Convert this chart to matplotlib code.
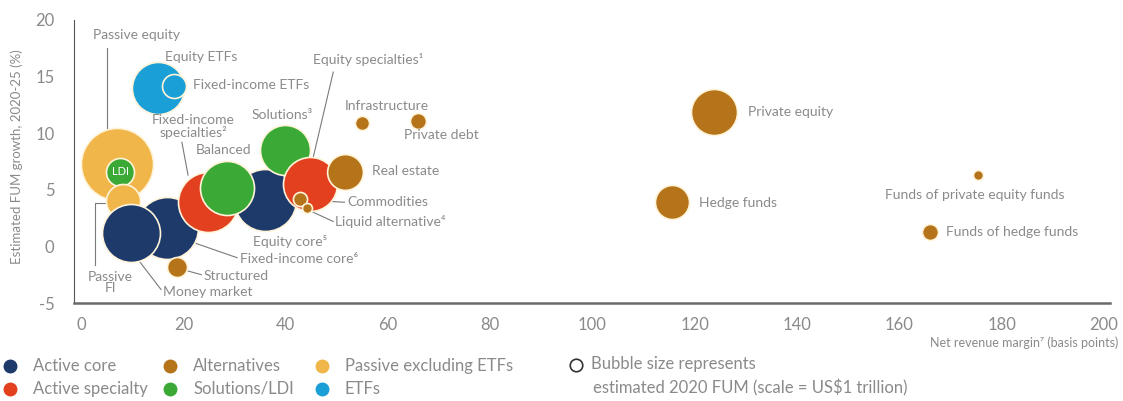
import matplotlib.pyplot as plt
from matplotlib.lines import Line2D

plt.rcParams['font.family'] = ['Lato', 'DejaVu Sans']
plt.rcParams['axes.unicode_minus'] = False

# data: net revenue margin (bps), FUM growth 2020-25 (%), FUM 2020 (US$ trillion)
names = ["Passive equity", "LDI", "Passive FI", "Fixed-income core", "Money market",
         "Structured", "Fixed-income specialties", "Equity core", "Balanced", "Solutions",
         "Equity specialties", "Real estate", "Commodities", "Liquid alternative",
         "Infrastructure", "Private debt", "Equity ETFs", "Fixed-income ETFs",
         "Private equity", "Hedge funds", "Funds of private equity funds", "Funds of hedge funds"]
margin = [7.0, 7.6, 8.2, 16.8, 9.8, 18.8, 24.8, 36.0, 28.5, 39.9,
          44.8, 51.6, 42.8, 44.2, 54.9, 65.9, 15.0, 18.2, 123.8, 115.5, 175.4, 166.0]
growth = [7.3, 6.6, 4.0, 1.6, 1.2, -1.8, 3.9, 4.1, 5.2, 8.5,
          5.5, 6.6, 4.2, 3.4, 10.9, 11.1, 14.0, 14.2, 11.9, 3.9, 6.3, 1.3]
fum = [13.0, 1.96, 2.9, 9.6, 8.4, 1.0, 9.0, 9.6, 7.3, 6.25,
       7.3, 3.2, 0.5, 0.25, 0.5, 0.64, 6.8, 1.44, 5.3, 2.9, 0.25, 0.64]
category = ["Passive", "Solutions", "Passive", "Core", "Core", "Alt", "Specialty", "Core",
            "Solutions", "Solutions", "Specialty", "Alt", "Alt", "Alt", "Alt", "Alt",
            "ETF", "ETF", "Alt", "Alt", "Alt", "Alt"]

cat_colors = {"Core": "#1d3a6b", "Specialty": "#e2401f", "Alt": "#b5741a",
              "Passive": "#f0b64a", "Solutions": "#3ba935", "ETF": "#1a9fd6"}
legend_items = [("Active core", "Core"), ("Active specialty", "Specialty"),
                ("Alternatives", "Alt"), ("Solutions/LDI", "Solutions"),
                ("Passive excluding ETFs", "Passive"), ("ETFs", "ETF")]

grey = "#8a8a8a"
W, H = 1123, 401
fig = plt.figure(figsize=(W / 100, H / 100), dpi=100)
ax = fig.add_axes([74 / W, 1 - 303 / H, (1110 - 74) / W, (303 - 20) / H])

size_scale = 207.36  # points^2 per US$ trillion
for i in range(len(names)):
    ax.scatter(margin[i], growth[i], s=fum[i] * size_scale, color=cat_colors[category[i]],
               edgecolor="#fff4da", linewidth=1.2, zorder=2 + i * 0.01)

ax.text(margin[1], growth[1], "LDI", color="white", fontsize=8, ha="center", va="center", zorder=3)

# labels: (text, x, y, ha)
labels = [
    ("Passive equity", 10.8, 18.7, "center"),
    ("Equity ETFs", 23.5, 16.7, "center"),
    ("Fixed-income ETFs", 21.9, 14.3, "left"),
    ("Fixed-income\nspecialties²", 21.9, 10.6, "center"),
    ("Balanced", 27.8, 8.5, "center"),
    ("Solutions³", 39.3, 11.6, "center"),
    ("Equity specialties¹", 56.1, 16.5, "center"),
    ("Infrastructure", 59.7, 12.4, "center"),
    ("Private debt", 70.4, 9.8, "center"),
    ("Real estate", 56.9, 6.7, "left"),
    ("Commodities", 52.0, 3.9, "left"),
    ("Liquid alternative⁴", 49.7, 2.2, "left"),
    ("Equity core⁵", 40.9, 0.45, "center"),
    ("Fixed-income core⁶", 31.1, -1.15, "left"),
    ("Structured", 23.9, -2.6, "left"),
    ("Money market", 16.0, -4.0, "left"),
    ("Passive\nFI", 5.7, -3.2, "center"),
    ("Private equity", 130.4, 11.9, "left"),
    ("Hedge funds", 120.8, 3.8, "left"),
    ("Funds of private equity funds", 157.2, 4.5, "left"),
    ("Funds of hedge funds", 169.1, 1.3, "left"),
]
for txt, lx, ly, ha in labels:
    ax.text(lx, ly, txt, color=grey, fontsize=10, ha=ha, va="center",
            linespacing=0.95, zorder=5)

leaders = [
    ([5.1, 5.1], [17.5, 10.5]),
    ([19.7, 20.9], [9.2, 6.3]),
    ([49.3, 45.4], [15.4, 7.9]),
    ([43.5, 51.5], [4.1, 3.9]),
    ([44.5, 49.3], [3.2, 2.2]),
    ([21.9, 30.5], [0.35, -1.0]),
    ([20.3, 23.5], [-2.1, -2.5]),
    ([11.1, 15.6], [-1.15, -3.8]),
    ([4.7, 2.7, 2.7], [3.8, 3.8, -1.6]),
]
for xs, ys in leaders:
    ax.plot(xs, ys, color="#7a7a7a", linewidth=0.8, zorder=1.5)

ax.set_xlim(-1.4, 201.2)
ax.set_ylim(-5, 20)
ax.set_xticks(range(0, 201, 20))
ax.set_yticks(range(-5, 21, 5))
ax.tick_params(length=0, labelsize=12, labelcolor=grey)
ax.tick_params(axis="x", pad=10)
ax.tick_params(axis="y", pad=14)
for s in ["top", "right"]:
    ax.spines[s].set_visible(False)
ax.spines["left"].set_color("#555555")
ax.spines["bottom"].set_color("#6a6a6a")
ax.spines["bottom"].set_linewidth(1.8)

fig.text(17 / W, 1 - 157 / H, "Estimated FUM growth, 2020-25 (%)", rotation=90,
         color=grey, fontsize=9.5, ha="center", va="center")
fig.text(1118 / W, 1 - 343 / H, "Net revenue margin⁷ (basis points)", color=grey,
         fontsize=9, ha="right", va="center")

# legend drawn by hand
marker_x = [10, 10, 170, 170, 322, 322]
row_y = [366, 389, 366, 389, 366, 389]
for (lab, cat), mx, my in zip(legend_items, marker_x, row_y):
    fig.add_artist(Line2D([mx / W], [1 - my / H], marker="o", markersize=9,
                          color=cat_colors[cat], linestyle="none"))
    fig.text((mx + 23) / W, 1 - my / H, lab, color=grey, fontsize=12, va="center")
fig.add_artist(Line2D([576 / W], [1 - 365 / H], marker="o", markersize=9, markerfacecolor="none",
                      markeredgecolor="#333333", markeredgewidth=1.2, linestyle="none"))
fig.text(591 / W, 1 - 364 / H, "Bubble size represents", color=grey, fontsize=12, va="center")
fig.text(593 / W, 1 - 388 / H, "estimated 2020 FUM (scale = US$1 trillion)", color=grey,
         fontsize=12, va="center")

fig.savefig("out.png", dpi=100)
